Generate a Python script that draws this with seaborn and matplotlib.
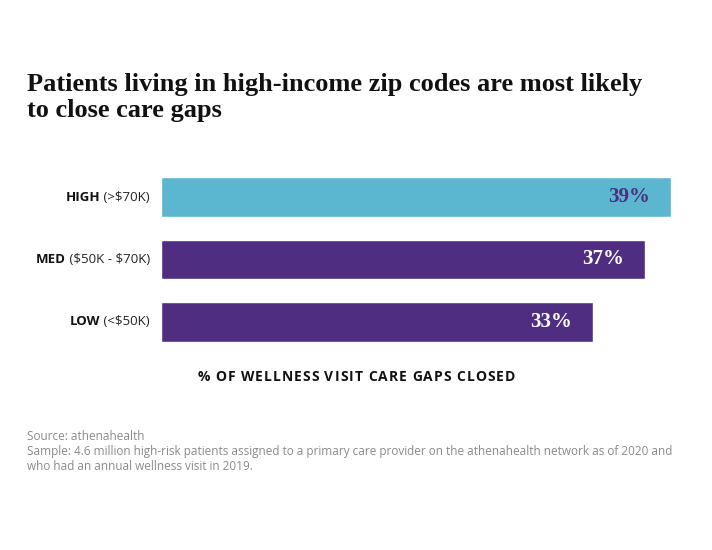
import matplotlib
matplotlib.use("Agg")
import matplotlib.pyplot as plt
import matplotlib.transforms as mtransforms
import seaborn as sns
import pandas as pd

categories = ["HIGH", "MED", "LOW"]
ranges = ["(>$70K)", "($50K - $70K)", "(<$50K)"]
values = [39, 37, 33]
value_labels = ["39%", "37%", "33%"]
bar_colors = ["#5bb7cf", "#4f2d80", "#4f2d80"]
label_colors = ["#4f2d80", "#ffffff", "#ffffff"]

title = "Patients living in high-income zip codes are most likely\nto close care gaps"
xlabel = "% OF WELLNESS VISIT CARE GAPS CLOSED"
source = "Source: athenahealth"
sample = ("Sample: 4.6 million high-risk patients assigned to a primary care provider on the athenahealth network as of 2020 and\n"
          "who had an annual wellness visit in 2019.")

sns.set_theme(style="white")
plt.rcParams['font.family'] = ['Open Sans', 'DejaVu Sans']
plt.rcParams['text.parse_math'] = False

df = pd.DataFrame({"cat": categories, "val": values})

W, H = 712, 550
fig = plt.figure(figsize=(W / 100, H / 100), dpi=100)
ax_left, ax_right = 161, 671
ax_top, ax_bottom = 166, 353
ax = fig.add_axes([ax_left / W, 1 - ax_bottom / H, (ax_right - ax_left) / W, (ax_bottom - ax_top) / H])

sns.barplot(data=df, y="cat", x="val", hue="cat", palette=bar_colors, legend=False,
            width=0.64, saturation=1, ax=ax, orient="h")
ax.set_xlim(0, max(values))
ax.set_ylim(2.5, -0.5)
for s in ax.spines.values():
    s.set_visible(False)
ax.set_xticks([])
ax.set_yticks([])
ax.set_xlabel("")
ax.set_ylabel("")

# value labels inside bars
for i, (v, lab, c) in enumerate(zip(values, value_labels, label_colors)):
    ax.annotate(lab, xy=(v, i), xytext=(-21, 0), textcoords="offset pixels",
                ha="right", va="center", color=c, fontsize=15, fontweight="bold",
                family=["Liberation Serif", "DejaVu Serif"])

fig.canvas.draw()
renderer = fig.canvas.get_renderer()

# category labels: bold + regular
trans = mtransforms.blended_transform_factory(fig.transFigure, ax.transData)
for i, (cat, rng) in enumerate(zip(categories, ranges)):
    t = fig.text(150 / W, i, " " + rng, transform=trans, ha="right", va="center",
                 fontsize=9.5, color="#222222")
    bb = t.get_window_extent(renderer)
    fig.text(bb.x0 / W, i, cat, transform=trans, ha="right", va="center",
             fontsize=9.5, fontweight="bold", color="#111111")

fig.text(27 / W, 1 - 73 / H, title, ha="left", va="top", fontsize=19, fontweight="bold",
         family=["Liberation Serif", "DejaVu Serif"], color="#111111", linespacing=1.15)

# x label with letter tracking
def tracked_text(s, xc_px, y_px, tracking_px, **kw):
    widths = []
    for k in range(len(s) + 1):
        if k == 0:
            widths.append(0.0)
            continue
        probe = fig.text(0, 0, s[:k] + "|", **kw)
        bar = fig.text(0, 0, "|", **kw)
        w = probe.get_window_extent(renderer).width - bar.get_window_extent(renderer).width
        probe.remove(); bar.remove()
        widths.append(w)
    total = widths[-1] + tracking_px * (len(s) - 1)
    x0 = xc_px - total / 2
    for k, ch in enumerate(s):
        if ch == " ":
            continue
        fig.text((x0 + widths[k] + tracking_px * k) / W, 1 - y_px / H, ch,
                 ha="left", va="center", **kw)

tracked_text(xlabel, 356, 377, 1.0, fontsize=10, fontweight="bold", color="#111111")

fig.text(27 / W, 1 - 437 / H, source, ha="left", va="center", fontsize=8.5, color="#8a8a8a")
fig.text(27 / W, 1 - 445 / H, sample, ha="left", va="top", fontsize=8.5, color="#8a8a8a",
         linespacing=1.25)

fig.savefig("out.png", dpi=100, facecolor="white")
